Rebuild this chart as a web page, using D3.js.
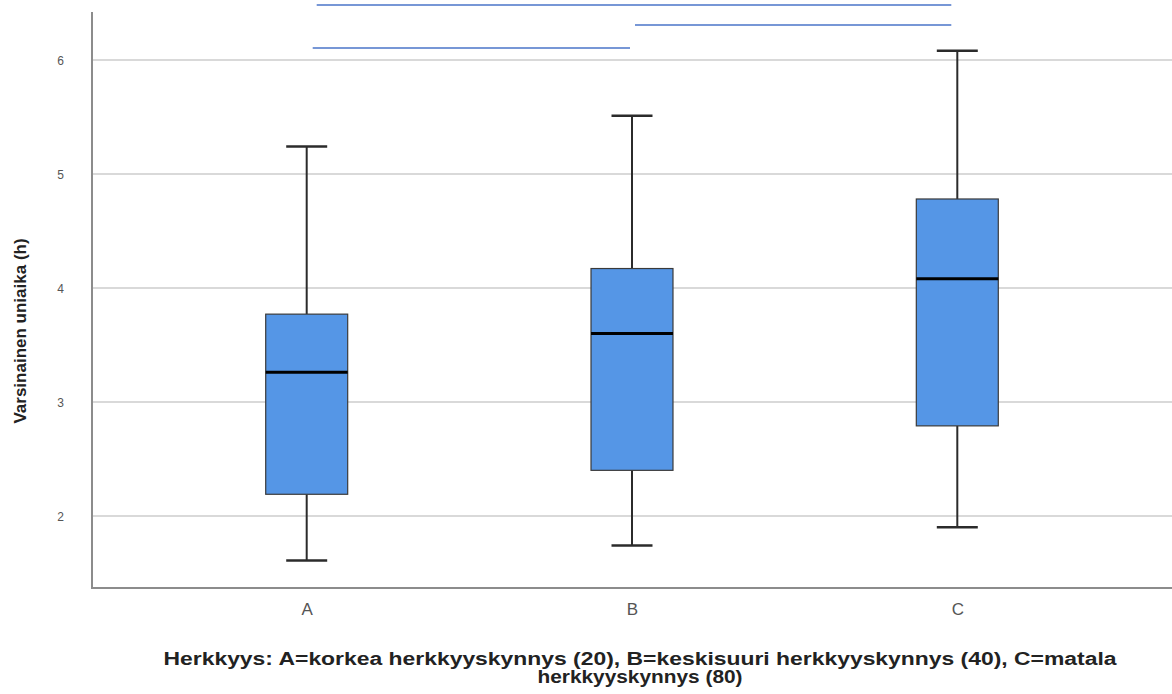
<!DOCTYPE html>
<html>
<head>
<meta charset="utf-8">
<script src="https://cdn.jsdelivr.net/npm/d3@7"></script>
<style>
  html, body { margin: 0; padding: 0; background: #fff; }
  svg { display: block; font-family: "Liberation Sans", Arial, sans-serif; }
</style>
</head>
<body>
<svg id="chart" width="1172" height="694"></svg>
<script>
// Sleep duration by sensitivity group (five-number summaries)
const groups = ["A", "B", "C"];
const whiskerLow  = [1.61, 1.74, 1.90];
const q1          = [2.19, 2.40, 2.79];
const median      = [3.26, 3.60, 4.08];
const q3          = [3.77, 4.17, 4.78];
const whiskerHigh = [5.24, 5.51, 6.08];
const yTicks = [2, 3, 4, 5, 6];

// Pairwise comparison brackets drawn above the plot
const pairFrom = ["A", "B", "A"];
const pairTo   = ["C", "C", "B"];

const yLabel = "Varsinainen uniaika (h)";
const xLabelLines = [
  "Herkkyys: A=korkea herkkyyskynnys (20), B=keskisuuri herkkyyskynnys (40), C=matala",
  "herkkyyskynnys (80)"
];

const svg = d3.select("#chart");
const plotLeft = 92, plotRight = 1172, plotTop = 12, plotBottom = 588;

const x = d3.scalePoint().domain(groups).range([plotLeft, plotRight]).padding(0.66);
const y = d3.scaleLinear().domain([1.368, 6.42]).range([plotBottom, plotTop]);
const boxW = x.step() * 0.252;
const capW = boxW * 0.5;

// gridlines
svg.append("g").selectAll("line").data(yTicks).join("line")
  .attr("x1", plotLeft).attr("x2", plotRight)
  .attr("y1", d => y(d)).attr("y2", d => y(d))
  .attr("stroke", "#d9d9d9").attr("stroke-width", 2);

// y axis
const yAxis = svg.append("g").attr("transform", `translate(${plotLeft},0)`)
  .call(d3.axisLeft(y).tickValues(yTicks).tickSize(0).tickPadding(28).tickFormat(d3.format("d")));
yAxis.select(".domain").remove();
yAxis.selectAll("text").attr("fill", "#555").attr("font-size", 12).attr("dy", "0.4em");

// x axis
const xAxis = svg.append("g").attr("transform", `translate(0,${plotBottom})`)
  .call(d3.axisBottom(x).tickSize(0).tickPadding(15));
xAxis.select(".domain").remove();
xAxis.selectAll("text").attr("fill", "#555").attr("font-size", 17);

// axis lines
svg.append("line").attr("x1", plotLeft).attr("x2", plotLeft).attr("y1", plotTop).attr("y2", plotBottom + 1)
  .attr("stroke", "#8c8c8c").attr("stroke-width", 2);
svg.append("line").attr("x1", plotLeft - 1).attr("x2", plotRight).attr("y1", plotBottom).attr("y2", plotBottom)
  .attr("stroke", "#8c8c8c").attr("stroke-width", 2);

// boxes
const data = groups.map((g, i) => ({
  g, lo: whiskerLow[i], q1: q1[i], med: median[i], q3: q3[i], hi: whiskerHigh[i]
}));
const box = svg.append("g").selectAll("g").data(data).join("g")
  .attr("transform", d => `translate(${x(d.g)},0)`);

box.append("line").attr("x1", 0).attr("x2", 0)
  .attr("y1", d => y(d.hi)).attr("y2", d => y(d.q3))
  .attr("stroke", "#2b2b2b").attr("stroke-width", 2);
box.append("line").attr("x1", 0).attr("x2", 0)
  .attr("y1", d => y(d.q1)).attr("y2", d => y(d.lo))
  .attr("stroke", "#2b2b2b").attr("stroke-width", 2);
box.append("line").attr("x1", -capW / 2).attr("x2", capW / 2)
  .attr("y1", d => y(d.hi)).attr("y2", d => y(d.hi))
  .attr("stroke", "#2b2b2b").attr("stroke-width", 2.5);
box.append("line").attr("x1", -capW / 2).attr("x2", capW / 2)
  .attr("y1", d => y(d.lo)).attr("y2", d => y(d.lo))
  .attr("stroke", "#2b2b2b").attr("stroke-width", 2.5);
box.append("rect")
  .attr("x", -boxW / 2).attr("width", boxW)
  .attr("y", d => y(d.q3)).attr("height", d => y(d.q1) - y(d.q3))
  .attr("fill", "#5596e6").attr("stroke", "#3a3a3a").attr("stroke-width", 1.2);
box.append("line").attr("x1", -boxW / 2).attr("x2", boxW / 2)
  .attr("y1", d => y(d.med)).attr("y2", d => y(d.med))
  .attr("stroke", "#000").attr("stroke-width", 3);

// comparison brackets
const pairs = pairFrom.map((a, i) => ({ a, b: pairTo[i], row: i }));
const rowY = [5, 25, 48];
svg.append("g").selectAll("line").data(pairs).join("line")
  .attr("x1", d => x(d.a) + (d.a === "A" ? (d.b === "C" ? 10 : 6) : 3))
  .attr("x2", d => x(d.b) - (d.b === "C" ? 6 : 2))
  .attr("y1", d => rowY[d.row]).attr("y2", d => rowY[d.row])
  .attr("stroke", "#4a74c9").attr("stroke-width", 1.3);

// axis titles
svg.append("text")
  .attr("transform", `translate(26,${(plotTop + plotBottom) / 2 + 31}) rotate(-90)`)
  .attr("text-anchor", "middle").attr("font-size", 17).attr("font-weight", "bold")
  .attr("fill", "#222").text(yLabel);

const xTitleWidths = [953, 205];
svg.append("g").selectAll("text").data(xLabelLines).join("text")
  .attr("text-anchor", "middle").attr("font-size", 18).attr("font-weight", "bold")
  .attr("fill", "#222")
  .attr("x", 640).attr("y", (d, i) => 665 + i * 18)
  .attr("textLength", (d, i) => xTitleWidths[i])
  .attr("lengthAdjust", "spacingAndGlyphs")
  .text(d => d);
</script>
</body>
</html>
